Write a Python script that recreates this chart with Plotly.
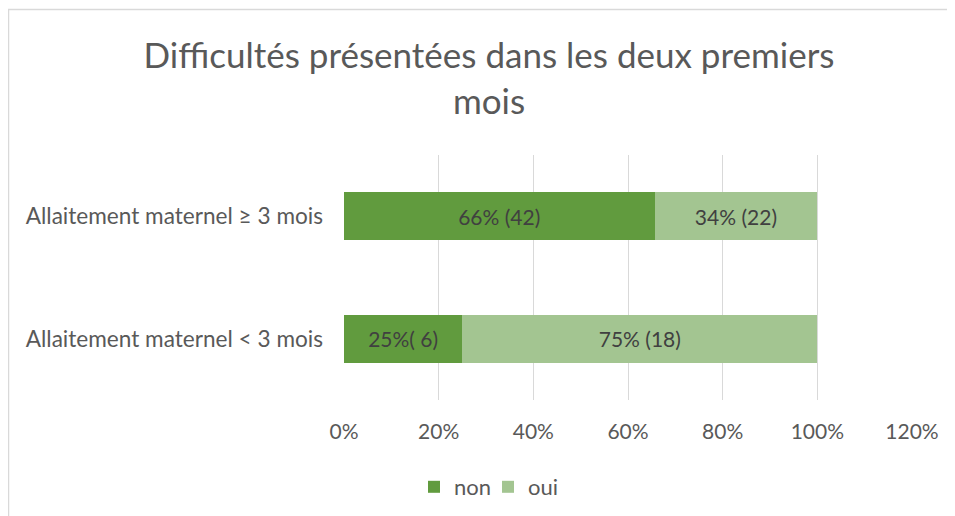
import plotly.graph_objects as go

categories = ["Allaitement maternel < 3 mois", "Allaitement maternel ≥ 3 mois"]
non_values = [0.25, 0.656]
oui_values = [0.75, 0.344]
non_labels = ["25%( 6)", "66% (42)"]
oui_labels = ["75% (18)", "34% (22)"]
tick_vals = [0, 0.2, 0.4, 0.6, 0.8, 1.0, 1.2]
tick_text = ["0%", "20%", "40%", "60%", "80%", "100%", "120%"]

FONT = "Lato, 'Open Sans', sans-serif"
TXT = "#595959"

fig = go.Figure()
fig.add_trace(go.Bar(
    y=categories, x=non_values, name="non", orientation="h",
    marker=dict(color="#619B3E", line=dict(width=0)),
    text=non_labels, textposition="inside", insidetextanchor="middle",
    textfont=dict(color="#404040", size=21, family=FONT),
    width=0.39, hoverinfo="skip",
))
fig.add_trace(go.Bar(
    y=categories, x=oui_values, name="oui", orientation="h",
    marker=dict(color="#A3C591", line=dict(width=0)),
    text=oui_labels, textposition="inside", insidetextanchor="middle",
    textfont=dict(color="#404040", size=21, family=FONT),
    width=0.39, hoverinfo="skip",
))

W, H = 955, 516
OFF = 8  # page body margin offset
L, R, T, B = 336, 51, 147, 124
pw, ph = W - L - R, H - T - B

def px_x(p):
    return (p - OFF - L) / pw

def px_y(p):
    return (H - B - (p - OFF)) / ph

fig.update_layout(
    width=W, height=H,
    barmode="stack",
    margin=dict(l=L, r=R, t=T, b=B),
    paper_bgcolor="white", plot_bgcolor="white",
    font=dict(family=FONT, color=TXT),
    title=dict(
        text="Difficultés présentées dans les deux premiers<br>mois",
        x=(489 - OFF) / W, xanchor="center", xref="container",
        y=1 - 60 / H, yanchor="top", yref="container",
        font=dict(size=35, color=TXT, family=FONT),
    ),
    xaxis=dict(
        range=[0, 1.2], tickvals=tick_vals, ticktext=tick_text,
        showgrid=True, gridcolor="#d9d9d9", gridwidth=1.3,
        zeroline=False, showline=False, ticks="",
        tickfont=dict(size=21, color=TXT, family=FONT),
        ticklabelstandoff=17, fixedrange=True,
    ),
    yaxis=dict(
        range=[-0.5, 1.5], showgrid=False, zeroline=False, showline=False,
        ticks="", tickfont=dict(size=22.6, color=TXT, family=FONT),
        ticklabelstandoff=20, fixedrange=True,
    ),
    legend=dict(
        orientation="h", x=px_x(488), xanchor="center",
        y=px_y(487), yanchor="middle", traceorder="normal",
        font=dict(size=22, color=TXT, family=FONT),
        entrywidth=29, entrywidthmode="pixels",
    ),
    showlegend=True,
    shapes=[dict(
        type="rect", xref="paper", yref="paper",
        x0=px_x(8.5), x1=px_x(1100), y0=px_y(700), y1=px_y(9.5),
        line=dict(color="#d9d9d9", width=1.5), fillcolor="rgba(0,0,0,0)",
        layer="below",
    )],
)

fig.write_html("out.html")
